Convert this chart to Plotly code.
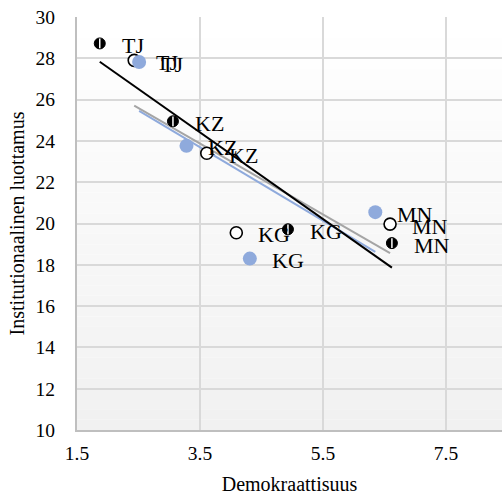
import numpy as np
import plotly.graph_objects as go

# ---- data ----
labels = ["TJ", "KZ", "KG", "MN"]
x1 = [1.87, 3.06, 4.93, 6.62]
y1 = [28.72, 24.95, 19.72, 19.05]
x2 = [2.43, 3.61, 4.09, 6.59]
y2 = [27.9, 23.4, 19.55, 19.97]
x3 = [2.51, 3.28, 4.31, 6.35]
y3 = [27.82, 23.76, 18.3, 20.55]

x_title = "Demokraattisuus"
y_title = "Institutionaalinen luottamus"
x_range = [1.5, 8.41]
y_range = [10, 30]

FONT = "Liberation Serif, Times New Roman, serif"
BLUE = "#8faadc"
GRAY = "#a5a5a5"

fig = go.Figure()

# background vertical gradient (paper coords)
n = 40
shapes = []
for i in range(n):
    t = i / (n - 1)
    c = int(round(255 - (255 - 241) * t))
    shapes.append(dict(type="rect", xref="paper", yref="paper",
                       x0=0, x1=1, y0=1 - (i + 1) / n, y1=1 - i / n,
                       fillcolor=f"rgb({c},{c},{c})", line=dict(width=0),
                       layer="below"))


def trend(xs, ys):
    k, b = np.polyfit(xs, ys, 1)
    xx = np.array([min(xs), max(xs)])
    return xx, k * xx + b


# trend lines
for xs, ys, col in [(x3, y3, BLUE), (x2, y2, GRAY), (x1, y1, "black")]:
    tx, ty = trend(xs, ys)
    fig.add_trace(go.Scatter(x=tx, y=ty, mode="lines",
                             line=dict(color=col, width=2), hoverinfo="skip"))

# series 1: black half-filled markers
fig.add_trace(go.Scatter(x=x1, y=y1, mode="markers",
                         marker=dict(symbol="circle", size=11, color="black",
                                     line=dict(color="black", width=1))))
fig.add_trace(go.Scatter(x=x1, y=y1, mode="markers",
                         marker=dict(symbol="line-ns", size=7,
                                     line=dict(color="white", width=1.5))))
# series 2: open circles
fig.add_trace(go.Scatter(x=x2, y=y2, mode="markers",
                         marker=dict(symbol="circle", size=12, color="white",
                                     line=dict(color="black", width=1.6))))
# series 3: blue filled
fig.add_trace(go.Scatter(x=x3, y=y3, mode="markers",
                         marker=dict(symbol="circle", size=14, color=BLUE,
                                     line=dict(width=0))))

annotations = []
for xs, ys in [(x1, y1), (x2, y2), (x3, y3)]:
    for xv, yv, lab in zip(xs, ys, labels):
        annotations.append(dict(x=xv, y=yv, text=lab, showarrow=False,
                                xanchor="left", yanchor="middle",
                                xshift=20, yshift=-2,
                                font=dict(family=FONT, size=22, color="black")))

fig.update_layout(
    width=502, height=503,
    margin=dict(l=77, r=0, t=17, b=73),
    paper_bgcolor="white", plot_bgcolor="rgba(0,0,0,0)",
    showlegend=False,
    shapes=shapes, annotations=annotations,
    font=dict(family=FONT, color="black"),
)
fig.update_xaxes(range=x_range, tick0=1.5, dtick=2, showgrid=True,
                 gridcolor="#d9d9d9", gridwidth=1.5, zeroline=False,
                 showline=True, linecolor="#bfbfbf", linewidth=2,
                 ticks="", ticklabelstandoff=5,
                 tickfont=dict(family=FONT, size=19.5, color="black"),
                 title=dict(text=x_title, standoff=14,
                            font=dict(family=FONT, size=20, color="black")))
fig.update_yaxes(range=y_range, dtick=2, showgrid=True,
                 gridcolor="#d9d9d9", gridwidth=1.5, zeroline=False,
                 showline=True, linecolor="#bfbfbf", linewidth=2,
                 ticks="", ticklabelstandoff=16,
                 tickfont=dict(family=FONT, size=19.5, color="black"),
                 title=dict(text=y_title, standoff=6,
                            font=dict(family=FONT, size=20, color="black")))

fig.write_html("out.html")
